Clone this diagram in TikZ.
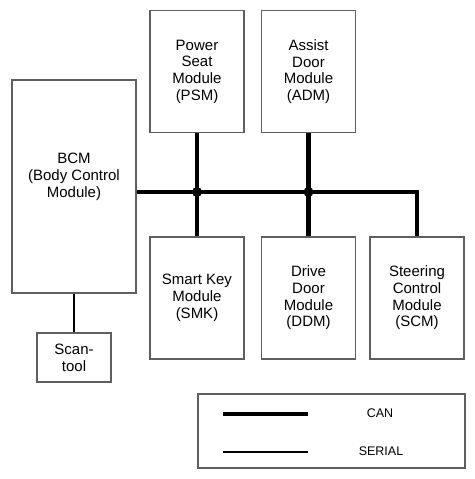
\documentclass[tikz,border=0pt]{standalone}
\usepackage{fontspec}
\setmainfont{Liberation Sans}
\definecolor{boxgray}{RGB}{95,95,95}
\begin{document}
\begin{tikzpicture}[x=1pt,y=-1pt,
    module/.style={draw=boxgray,line width=1.1pt,minimum width=94pt,minimum height=122pt,
      inner sep=0pt,align=center,font=\fontsize{15}{16.7}\selectfont},
    txt/.style={align=center,inner sep=0pt,font=\fontsize{15}{16.7}\selectfont},
    can/.style={line width=4.5pt},
    serial/.style={line width=2.6pt},
    junction/.style={circle,fill,inner sep=0pt,minimum size=10pt}]
  \useasboundingbox (0,0) rectangle (474,479);
  \node[module,minimum width=124pt,minimum height=213pt] (bcm) at (74,186.5) {};
  \node[txt] (bcmtext) at (74,177) {BCM\\(Body Control\\Module)};
  \node[module] (psm) at (197,71.5) {Power\\Seat\\Module\\(PSM)};
  \node[module] (adm) at (308.5,71.5) {Assist\\Door\\Module\\(ADM)};
  \node[module] (smk) at (197,298) {Smart Key\\Module\\(SMK)};
  \node[module] (ddm) at (308.5,298) {Drive\\Door\\Module\\(DDM)};
  \node[module] (scm) at (417,298) {Steering\\Control\\Module\\(SCM)};
  \node[module,minimum width=74pt,minimum height=49pt] (scan) at (74,357.5) {Scan-\\tool};
  % bus
  \coordinate (j1) at (197,192);
  \coordinate (j2) at (308.5,192);
  \draw[can] (bcm.east |- j1) -- (j1 -| scm) -- (scm.north);
  \draw[can] (psm.south) -- (smk.north);
  \draw[can] (adm.south) -- (ddm.north);
  \node[junction] (dot1) at (j1) {};
  \node[junction] (dot2) at (j2) {};
  \draw[serial] (bcm.south) -- (scan.north);
  % legend
  \node[module,minimum width=267pt,minimum height=74pt] (legend) at (331.5,431) {};
  \coordinate (cana) at (223,414);
  \coordinate (canb) at (308,414);
  \coordinate (sera) at (223,452);
  \coordinate (serb) at (308,452);
  \draw[can] (cana) -- (canb);
  \draw[serial] (sera) -- (serb);
  \node[txt,font=\fontsize{12.5}{15}\selectfont] (cantext) at (380,413) {CAN};
  \node[txt,font=\fontsize{12.5}{15}\selectfont] (sertext) at (381,451) {SERIAL};
\end{tikzpicture}
\end{document}
